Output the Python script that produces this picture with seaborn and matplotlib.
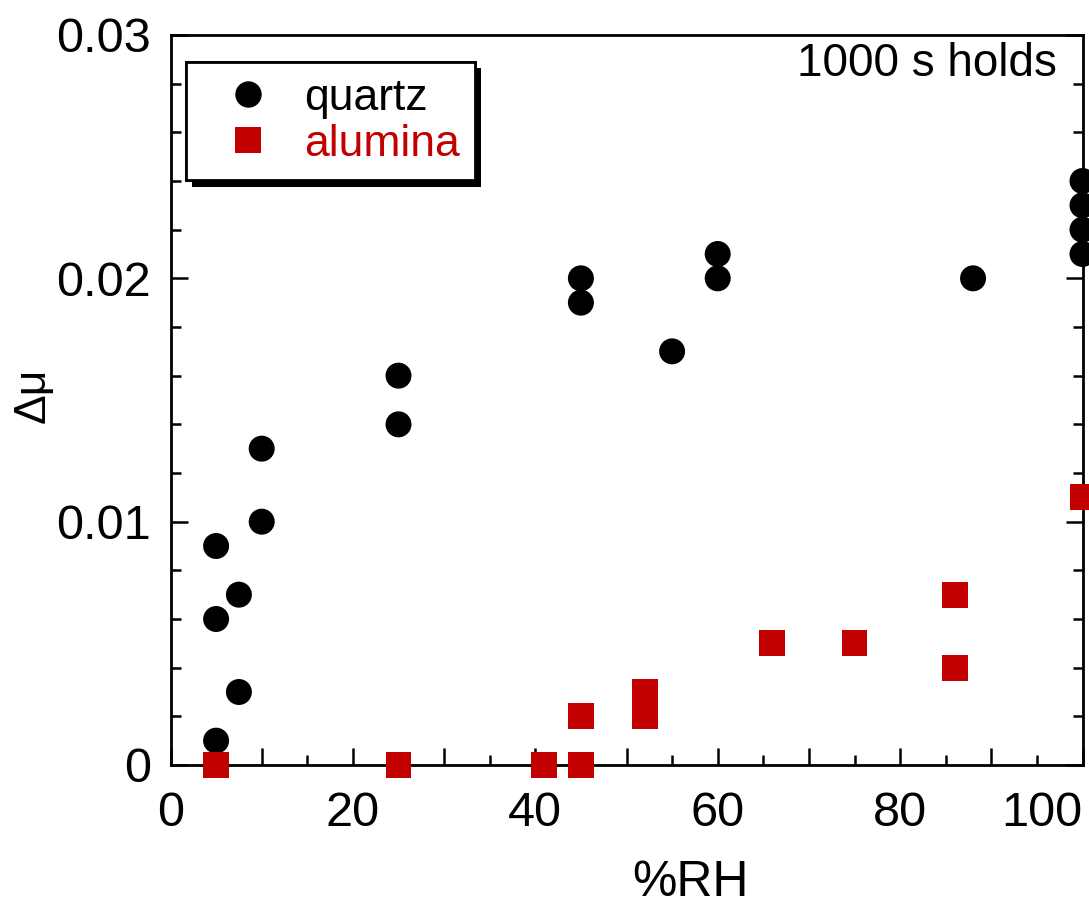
import matplotlib
matplotlib.use("Agg")
import matplotlib.pyplot as plt
import matplotlib.patheffects as pe
from matplotlib.ticker import MultipleLocator, FixedFormatter, FixedLocator
import seaborn as sns
import pandas as pd

quartz_rh = [5, 5, 5, 7.5, 7.5, 10, 10, 25, 25, 45, 45, 55, 60, 60, 88, 100, 100, 100, 100]
quartz_dmu = [0.009, 0.006, 0.001, 0.007, 0.003, 0.013, 0.010, 0.016, 0.014, 0.020, 0.019,
              0.017, 0.021, 0.020, 0.020, 0.024, 0.023, 0.022, 0.021]
alumina_rh = [5, 25, 41, 45, 45, 52, 52, 66, 75, 86, 86, 100]
alumina_dmu = [0.0, 0.0, 0.0, 0.0, 0.002, 0.003, 0.002, 0.005, 0.005, 0.007, 0.004, 0.011]

series_names = ["quartz", "alumina"]
series_colors = ["#000000", "#C20000"]
series_markers = ["o", "s"]

x_ticks = [0, 10, 20, 30, 40, 50, 60, 70, 80, 90, 100]
x_ticklabels = ["0", "", "20", "", "40", "", "60", "", "80", "", "100"]
y_ticks = [0, 0.01, 0.02, 0.03]
y_ticklabels = ["0", "0.01", "0.02", "0.03"]

df = pd.concat([
    pd.DataFrame({"RH": quartz_rh, "dmu": quartz_dmu, "material": "quartz"}),
    pd.DataFrame({"RH": alumina_rh, "dmu": alumina_dmu, "material": "alumina"}),
])

sns.set_theme(style="ticks")
plt.rcParams["font.family"] = ["Liberation Sans", "DejaVu Sans"]
plt.rcParams["text.color"] = "black"
plt.rcParams["axes.labelcolor"] = "black"
plt.rcParams["xtick.color"] = "black"
plt.rcParams["ytick.color"] = "black"
plt.rcParams["axes.edgecolor"] = "black"

fig = plt.figure(figsize=(10.89, 9.08), dpi=100)
ax = fig.add_axes([170.5 / 1089, (908 - 765) / 908, 912 / 1089, 730 / 908])

sns.scatterplot(data=df, x="RH", y="dmu", hue="material", style="material",
                hue_order=series_names, style_order=series_names,
                palette=dict(zip(series_names, series_colors)),
                markers=dict(zip(series_names, series_markers)),
                s=350, linewidth=0, clip_on=False, ax=ax, legend=False, zorder=3)

ax.set_xlim(0, 100)
ax.set_ylim(0, 0.03)

ax.xaxis.set_major_locator(FixedLocator(x_ticks))
ax.xaxis.set_major_formatter(FixedFormatter(x_ticklabels))
ax.xaxis.set_minor_locator(MultipleLocator(5))
ax.yaxis.set_major_locator(FixedLocator(y_ticks))
ax.yaxis.set_major_formatter(FixedFormatter(y_ticklabels))
ax.yaxis.set_minor_locator(MultipleLocator(0.002))

ax.tick_params(axis="both", which="major", direction="in", length=12, width=1.8,
               labelsize=35, pad=14)
ax.tick_params(axis="both", which="minor", direction="in", length=7, width=1.8)
ax.tick_params(axis="y", which="both", left=True, right=True)
ax.tick_params(axis="x", which="both", bottom=True, top=False)
ax.tick_params(axis="x", which="major", pad=19)
ax.tick_params(axis="y", which="major", pad=14)

fig.canvas.draw()
xl = ax.get_xticklabels()
xl[-1].set_horizontalalignment("right")

for sp in ax.spines.values():
    sp.set_linewidth(2)
    sp.set_color("black")
    sp.set_visible(True)

ax.set_xlabel("%RH", fontsize=36)
ax.xaxis.set_label_coords(0.57, -0.13)
ax.set_ylabel("Δμ", fontsize=32)
ax.yaxis.set_label_coords(-0.128, 0.507)

ax.text(0.972, 0.99, "1000 s holds", transform=ax.transAxes, ha="right", va="top",
        fontsize=33)

handles = [plt.Line2D([], [], linestyle="none", marker=m, color=c, markersize=19,
                      markeredgewidth=0)
           for m, c in zip(series_markers, series_colors)]
leg = ax.legend(handles, series_names, loc="upper left",
                bbox_to_anchor=(0.017, 0.963), fontsize=32, frameon=True,
                fancybox=False, edgecolor="black", framealpha=1,
                handletextpad=0.2, labelspacing=0.12, borderpad=0.35,
                handlelength=2.1, borderaxespad=0)
leg.get_frame().set_linewidth(2)
leg.get_frame().set_path_effects([pe.withSimplePatchShadow(offset=(4.5, -4.5),
                                                           shadow_rgbFace="black", alpha=1),
                                  pe.Normal()])
for t, c in zip(leg.get_texts(), series_colors):
    t.set_color(c)

fig.savefig("out.png", dpi=100)
